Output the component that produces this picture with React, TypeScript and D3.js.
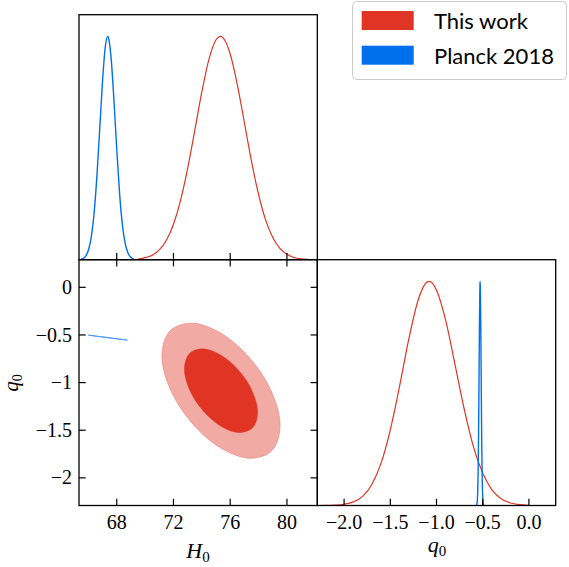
import React from 'react';
import * as d3 from 'd3';

// marginal densities (normalised to peak = 1)
const redH0X = [69.5, 70, 70.5, 71, 71.5, 72, 72.5, 73, 73.5, 74, 74.5, 75, 75.3, 75.5, 76, 76.5, 77, 77.5, 78, 78.5, 79, 79.5, 80, 80.5, 81, 81.5];
const redH0Y = [0.003, 0.009, 0.020, 0.044, 0.087, 0.159, 0.266, 0.409, 0.578, 0.751, 0.897, 0.985, 1.0, 0.993, 0.921, 0.784, 0.614, 0.441, 0.292, 0.177, 0.099, 0.051, 0.024, 0.010, 0.004, 0.0015];

const blueH0X = [65.5, 65.6, 65.8, 66.0, 66.2, 66.4, 66.6, 66.8, 67.0, 67.2, 67.36, 67.4, 67.6, 67.8, 68.0, 68.2, 68.4, 68.6, 68.8, 69.0, 69.2];
const blueH0Y = [0.002, 0.005, 0.015, 0.042, 0.100, 0.206, 0.372, 0.584, 0.801, 0.957, 1.0, 0.997, 0.906, 0.717, 0.496, 0.298, 0.156, 0.072, 0.029, 0.010, 0.003];

const redQ0X = [-2.29, -2.2, -2.1, -2.0, -1.9, -1.8, -1.7, -1.6, -1.5, -1.4, -1.3, -1.2, -1.1, -1.08, -1.0, -0.9, -0.8, -0.7, -0.6, -0.5, -0.4, -0.3, -0.2, -0.1, 0.0];
const redQ0Y = [0.0001, 0.0004, 0.0017, 0.0055, 0.016, 0.041, 0.094, 0.189, 0.338, 0.532, 0.742, 0.915, 0.998, 1.0, 0.961, 0.825, 0.630, 0.430, 0.262, 0.145, 0.070, 0.030, 0.011, 0.0035, 0.001];

const blueQ0X = [-0.575, -0.57, -0.565, -0.56, -0.555, -0.55, -0.545, -0.54, -0.535, -0.53, -0.528, -0.525, -0.52, -0.515, -0.51, -0.505, -0.5, -0.495, -0.49, -0.485];
const blueQ0Y = [0.0001, 0.0007, 0.0035, 0.0145, 0.049, 0.135, 0.303, 0.551, 0.817, 0.984, 1.0, 0.963, 0.768, 0.497, 0.262, 0.112, 0.039, 0.011, 0.0026, 0.0005];

// 2D contours (H0, q0)
const redOuterH0 = [79.51, 78.95, 77.43, 75.35, 73.27, 71.75, 71.19, 71.75, 73.27, 75.35, 77.43, 78.95];
const redOuterQ0 = [-1.461, -1.110, -0.752, -0.483, -0.376, -0.458, -0.709, -1.060, -1.418, -1.687, -1.794, -1.712];
const redInnerH0 = [77.93, 77.58, 76.64, 75.35, 74.06, 73.12, 72.77, 73.12, 74.06, 75.35, 76.64, 77.58];
const redInnerQ0 = [-1.318, -1.100, -0.879, -0.713, -0.646, -0.697, -0.852, -1.070, -1.291, -1.458, -1.524, -1.473];
const blueH0 = [66.0, 67.37, 68.75, 67.37];
const blueQ0 = [-0.502, -0.526, -0.554, -0.530];

const h0Ticks = [68, 72, 76, 80];
const q0TicksY = [0, -0.5, -1, -1.5, -2];
const q0LabelsY = ['0', '\u22120.5', '\u22121', '\u22121.5', '\u22122'];
const q0TicksX = [-2, -1.5, -1, -0.5, 0];
const q0LabelsX = ['\u22122.0', '\u22121.5', '\u22121.0', '\u22120.5', '0.0'];

const legendLabels = ['This work', 'Planck 2018'];
const RED = '#e03424';
const BLUE = '#006fed';

const zip = (a: number[], b: number[]) => a.map((v, i) => [v, b[i]] as [number, number]);

export default function App() {
  const L = 79, M = 317.3, R = 555.7;
  const T = 14.7, MID = 259.7, B = 505.5;
  const tk = 6.7;

  const xH0 = d3.scaleLinear().domain([65.34, 82.14]).range([L, M]);
  const yQ0 = d3.scaleLinear().domain([-2.29, 0.29]).range([B, MID]);
  const xQ0 = d3.scaleLinear().domain([-2.29, 0.29]).range([M, R]);
  const yTop = d3.scaleLinear().domain([0, 1.097]).range([MID, T]);
  const yBR = d3.scaleLinear().domain([0, 1.097]).range([B, MID]);

  const lineTop = d3.line<[number, number]>().x(d => xH0(d[0])).y(d => yTop(d[1])).curve(d3.curveMonotoneX);
  const lineBR = d3.line<[number, number]>().x(d => xQ0(d[0])).y(d => yBR(d[1])).curve(d3.curveMonotoneX);
  const contour = d3.line<[number, number]>().x(d => xH0(d[0])).y(d => yQ0(d[1])).curve(d3.curveCatmullRomClosed.alpha(0.5));
  const thin = d3.line<[number, number]>().x(d => xH0(d[0])).y(d => yQ0(d[1])).curve(d3.curveLinearClosed);

  const tickStyle = { stroke: '#000', strokeWidth: 1.2 };
  const serif = { fontFamily: "'Liberation Serif', 'DejaVu Serif', serif" };
  const sans = { fontFamily: "Lato, 'Open Sans', sans-serif" };

  return (
    <svg width={569} height={567} style={{ position: 'absolute', left: 0, top: 0, background: '#fff' }}>
      <defs>
        <clipPath id="clipBR"><rect x={M} y={MID} width={R - M} height={B - MID} /></clipPath>
        <clipPath id="clipTop"><rect x={L} y={T} width={M - L} height={MID - T} /></clipPath>
      </defs>

      {/* top: H0 marginal */}
      <g clipPath="url(#clipTop)">
        <path d={lineTop(zip(blueH0X, blueH0Y)) || ''} fill="none" stroke={BLUE} strokeWidth={1.4} />
        <path d={lineTop(zip(redH0X, redH0Y)) || ''} fill="none" stroke={RED} strokeWidth={1.2} />
      </g>

      {/* bottom-left: 2D contours */}
      <path d={contour(zip(redOuterH0, redOuterQ0)) || ''} fill="#f2aaa4" stroke="#ec8f86" strokeWidth={0.8} />
      <path d={contour(zip(redInnerH0, redInnerQ0)) || ''} fill={RED} stroke={RED} strokeWidth={0.5} />
      <path d={thin(zip(blueH0, blueQ0)) || ''} fill="#4a9af5" stroke="#4a9af5" strokeWidth={0.9} />

      {/* bottom-right: q0 marginal */}
      <g clipPath="url(#clipBR)">
        <path d={lineBR(zip(redQ0X, redQ0Y)) || ''} fill="none" stroke={RED} strokeWidth={1.2} />
        <path d={lineBR(zip(blueQ0X, blueQ0Y)) || ''} fill="none" stroke={BLUE} strokeWidth={1.4} />
      </g>

      {/* frames */}
      <rect x={L} y={T} width={M - L} height={MID - T} fill="none" stroke="#000" strokeWidth={1.3} />
      <rect x={L} y={MID} width={M - L} height={B - MID} fill="none" stroke="#000" strokeWidth={1.3} />
      <rect x={M} y={MID} width={R - M} height={B - MID} fill="none" stroke="#000" strokeWidth={1.3} />

      {/* H0 ticks */}
      {h0Ticks.map(t => (
        <g key={'h' + t}>
          <line x1={xH0(t)} x2={xH0(t)} y1={MID} y2={MID - tk} style={tickStyle} />
          <line x1={xH0(t)} x2={xH0(t)} y1={MID} y2={MID + tk} style={tickStyle} />
          <line x1={xH0(t)} x2={xH0(t)} y1={B} y2={B - tk} style={tickStyle} />
          <text x={xH0(t)} y={529} textAnchor="middle" style={serif} fontSize={20}>{t}</text>
        </g>
      ))}

      {/* q0 ticks (y, bottom-left) */}
      {q0TicksY.map((t, i) => (
        <g key={'qy' + t}>
          <line x1={L} x2={L + tk} y1={yQ0(t)} y2={yQ0(t)} style={tickStyle} />
          <line x1={M} x2={M - tk} y1={yQ0(t)} y2={yQ0(t)} style={tickStyle} />
          <text x={72} y={yQ0(t)} dy="0.33em" textAnchor="end" style={serif} fontSize={20}>{q0LabelsY[i]}</text>
        </g>
      ))}

      {/* q0 ticks (x, bottom-right) */}
      {q0TicksX.map((t, i) => (
        <g key={'qx' + t}>
          <line x1={xQ0(t)} x2={xQ0(t)} y1={B} y2={B - tk} style={tickStyle} />
          <text x={xQ0(t)} y={529} textAnchor="middle" style={serif} fontSize={20}>{q0LabelsX[i]}</text>
        </g>
      ))}

      {/* axis labels */}
      <text x={198} y={558} textAnchor="middle" style={serif} fontSize={22}>
        <tspan fontStyle="italic">H</tspan><tspan fontSize={15} dy={4}>0</tspan>
      </text>
      <text x={437} y={552} textAnchor="middle" style={serif} fontSize={22}>
        <tspan fontStyle="italic">q</tspan><tspan fontSize={15} dy={4}>0</tspan>
      </text>
      <text transform="translate(18,383) rotate(-90)" textAnchor="middle" style={serif} fontSize={21}>
        <tspan fontStyle="italic">q</tspan><tspan fontSize={14} dy={4}>0</tspan>
      </text>

      {/* legend */}
      <rect x={352.5} y={1.5} width={214} height={78} rx={4} fill="#fff" stroke="#cccccc" strokeWidth={1} />
      {legendLabels.map((lab, i) => (
        <g key={lab}>
          <rect x={361.7} y={11 + i * 34.7} width={52} height={19} fill={i === 0 ? RED : BLUE} />
          <text x={434} y={29 + i * 34.5} style={sans} fontSize={22}>{lab}</text>
        </g>
      ))}
    </svg>
  );
}
